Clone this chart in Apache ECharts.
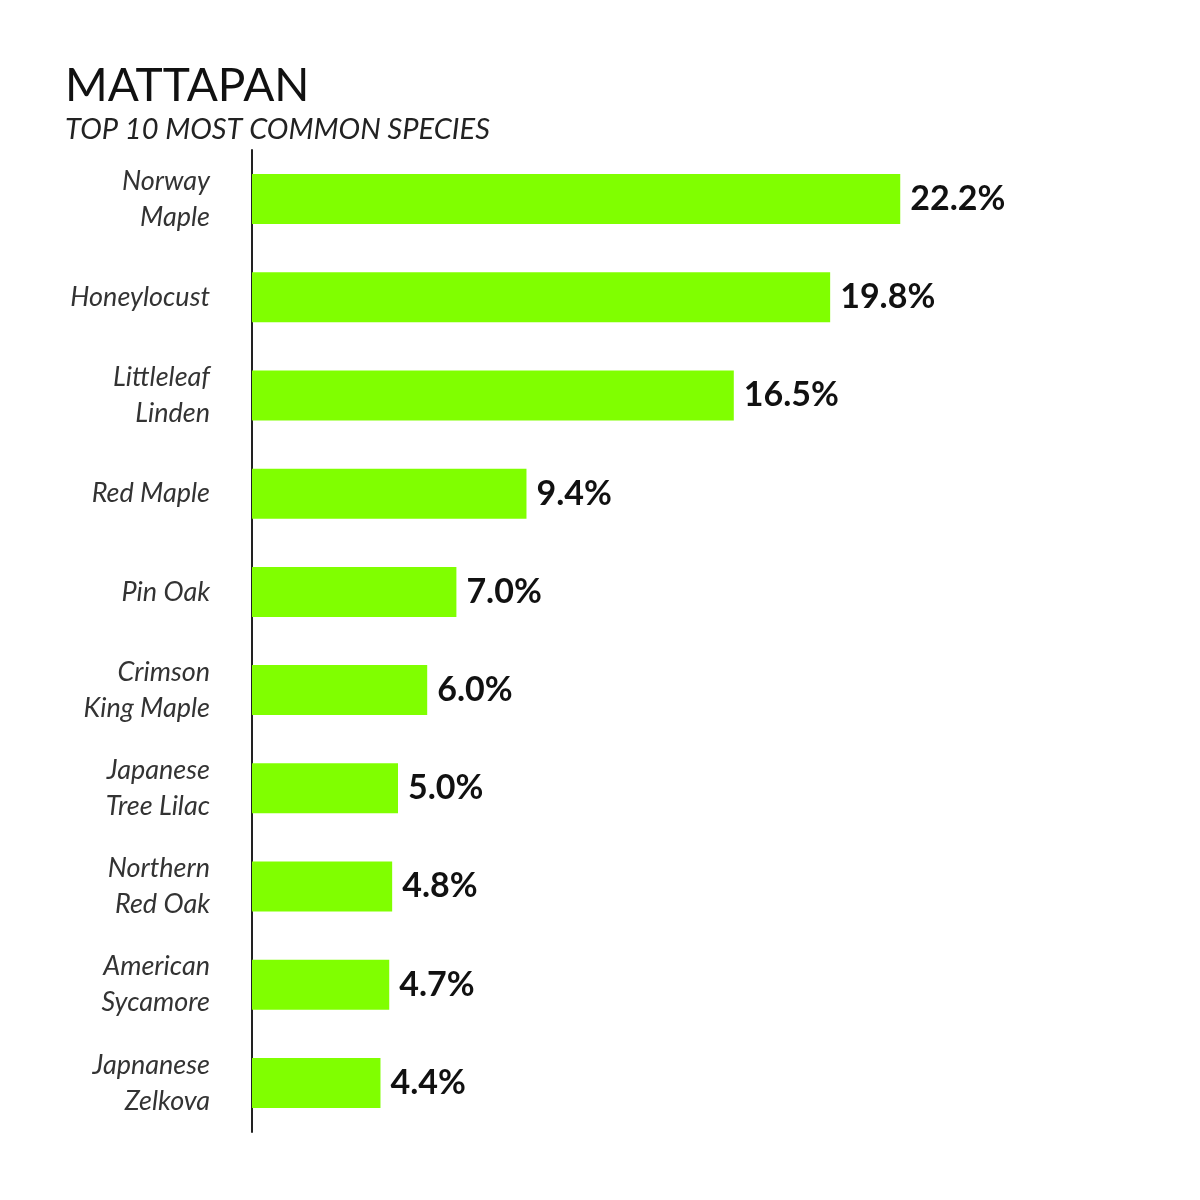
<!DOCTYPE html>
<html><head><meta charset="utf-8">
<script src="https://cdn.jsdelivr.net/npm/echarts@6/dist/echarts.min.js"></script>
<style>html,body{margin:0;padding:0;background:#fff}#c{width:1200px;height:1200px}</style>
</head><body><div id="c"></div>
<script>
const categories = ["Norway\nMaple","Honeylocust","Littleleaf\nLinden","Red Maple","Pin Oak","Crimson\nKing Maple","Japanese\nTree Lilac","Northern\nRed Oak","American\nSycamore","Japnanese\nZelkova"];
const values = [22.2,19.8,16.5,9.4,7.0,6.0,5.0,4.8,4.7,4.4];
const chart = echarts.init(document.getElementById('c'));
chart.setOption({
  backgroundColor:'#fff',
  title:[
    {text:'MATTAPAN',left:60,top:58,textStyle:{fontFamily:'Lato',fontWeight:'normal',fontSize:46,color:'#111'}},
    {text:'TOP 10 MOST COMMON SPECIES',left:60,top:110,textStyle:{fontFamily:'Lato',fontStyle:'italic',fontWeight:'normal',fontSize:29,color:'#222'}}
  ],
  grid:{left:252,top:150,width:876,height:982},
  xAxis:{type:'value',min:0,max:30,show:false},
  yAxis:{type:'category',inverse:true,data:categories,
    axisLine:{lineStyle:{color:'#222',width:2}},
    axisTick:{alignWithLabel:true,length:26,lineStyle:{color:'#888',width:1.5}},
    axisLabel:{margin:42,fontFamily:'Lato',fontStyle:'italic',fontSize:27,color:'#333',lineHeight:36,align:'right'}},
  series:[{type:'bar',data:values,barWidth:50,itemStyle:{color:'#80ff00'},
    label:{show:true,position:'right',distance:10,formatter:p=>p.value.toFixed(1)+'%',fontFamily:'Lato',fontWeight:'bold',fontSize:34,color:'#111'}}]
});
</script></body></html>
